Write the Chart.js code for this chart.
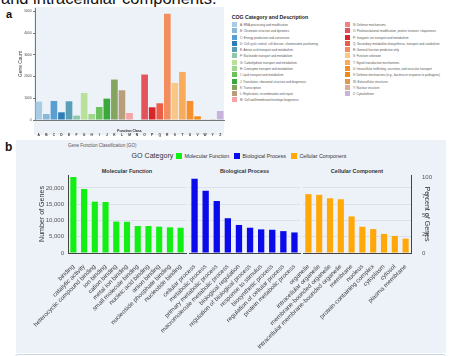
<!DOCTYPE html>
<html><head><meta charset="utf-8">
<script src="https://cdn.jsdelivr.net/npm/chart.js@4.4.0/dist/chart.umd.min.js"></script>
<style>
html,body{margin:0;padding:0;background:#fff;width:456px;height:356px;overflow:hidden;position:relative;font-family:"Liberation Sans",Arial,sans-serif;}
.abs{position:absolute;white-space:nowrap;}
canvas{position:absolute;}
.lg{position:absolute;white-space:nowrap;font-size:3px;color:#555;line-height:4px;}
.lg i{position:absolute;left:0;top:-1px;width:4.5px;height:5px;}
.lg span{position:absolute;left:8px;top:0;}
</style></head><body>
<div class="abs" style="left:1px;top:-9.5px;font-size:16.5px;line-height:15px;color:#111;">and intracellular components.</div>
<div class="abs" style="left:6px;top:8px;font-size:11px;font-weight:bold;color:#111;">a</div>
<canvas id="ca" width="228" height="137" style="left:0;top:0;"></canvas>
<div class="abs" style="left:231.7px;top:13.5px;font-size:5.2px;font-weight:bold;color:#222;line-height:6px;">COG Category and Description</div>
<div id="cogLegend"></div>

<div class="abs" style="left:16px;top:140px;width:430px;height:213px;background:#edf1f8;"></div>
<div class="abs" style="left:5px;top:140px;font-size:12px;font-weight:bold;color:#111;">b</div>
<div class="abs" style="left:68px;top:143px;font-size:4.5px;color:#555;line-height:6px;">Gene Function Classification (GO)</div>
<div class="abs" style="left:131.5px;top:151.5px;font-size:7.1px;color:#333;line-height:9px;">GO Category</div>
<div id="goLegend"></div>
<div id="goTitles"></div>
<canvas id="c1" width="172" height="193" style="left:16px;top:160px;"></canvas>
<canvas id="c2" width="286" height="193" style="left:16px;top:160px;"></canvas>
<canvas id="c3" width="430" height="193" style="left:16px;top:160px;"></canvas>
<div class="abs" style="left:15px;top:353.5px;width:429px;height:10px;background:#fff;border:1px solid #c9d6e6;border-radius:3px;"></div>

<script>
const FONT = '"Liberation Sans", Arial, sans-serif';

// ---- Panel a data ----
const cogClasses = ['A','B','C','D','E','F','G','H','I','J','K','L','M','N','O','P','Q','R','S','T','U','V','W','Y','Z'];
const cogCounts  = [845,276,876,353,860,200,1244,276,599,983,1859,1367,323,0,2089,584,768,4885,1705,2212,876,169,30,40,415];
const cogCountTicks = [0,1000,2000,3000,4000,5000];
const cogDescriptions = [
  'RNA processing and modification',
  'Chromatin structure and dynamics',
  'Energy production and conversion',
  'Cell cycle control, cell division, chromosome partitioning',
  'Amino acid transport and metabolism',
  'Nucleotide transport and metabolism',
  'Carbohydrate transport and metabolism',
  'Coenzyme transport and metabolism',
  'Lipid transport and metabolism',
  'Translation, ribosomal structure and biogenesis',
  'Transcription',
  'Replication, recombination and repair',
  'Cell wall/membrane/envelope biogenesis',
  'Defense mechanisms',
  'Posttranslational modification, protein turnover, chaperones',
  'Inorganic ion transport and metabolism',
  'Secondary metabolites biosynthesis, transport and catabolism',
  'General function prediction only',
  'Function unknown',
  'Signal transduction mechanisms',
  'Intracellular trafficking, secretion, and vesicular transport',
  'Defense mechanisms (e.g., bacteria in response to pathogens)',
  'Extracellular structures',
  'Nuclear structure',
  'Cytoskeleton'
];
const cogColors = ['#a8cce4','#8ab8dc','#5b9fd0','#2f7db8','#5a9fb5','#8fc9a9','#b8e29a','#9fd88a','#6cc15e','#3ba83b','#84a55f','#b89e7d','#f5a3a4',
                   '#f47f80','#e4525a','#d8272b','#ec5e48','#f38d5c','#fbc784','#f9ab5c','#f88f2c','#f38a13','#e39650','#dbab9a','#c8b4da'];

// ---- Panel b data ----
const mfTerms = ['binding','catalytic activity','heterocyclic compound binding','ion binding','cation binding','metal ion binding','small molecule binding','nucleic acid binding','anion binding','nucleoside phosphate binding','nucleotide binding'];
const mfCounts = [23380,19690,15800,15700,9670,9600,8310,8300,8100,7900,7780];
const bpTerms = ['cellular process','metabolic process','primary metabolic process','macromolecule metabolic process','biological regulation','regulation of biological process','response to stimulus','biosynthetic process','regulation of cellular process','protein metabolic process'];
const bpCounts = [22850,19150,16000,10700,8630,7780,7270,7150,6730,6320];
const ccTerms = ['organelle','intracellular organelle','membrane-bounded organelle','intracellular membrane-bounded organelle','membrane','nucleus','protein-containing complex','cytoplasm','cytosol','plasma membrane'];
const ccCounts = [18110,17890,16840,16530,11250,8090,7360,5880,5250,4420];
const goCategories = ['Molecular Function','Biological Process','Cellular Component'];
const goColors = ['#12ef12','#0a0aea','#ffa808'];
const goCountTicks = [0,5000,10000,15000,20000];
const goPercentTicks = [0,25,50,75,100];
const countMax = 24000;
const percentMax = 102.6;

const setTicks = arr => s => { s.ticks = arr.map(v => ({value:v})); };

// ---- legends (HTML) ----
(function(){
  const box = document.getElementById('cogLegend');
  cogClasses.forEach((c,i)=>{
    const col = i < 13 ? 0 : 1, row = i < 13 ? i : i - 13;
    const d = document.createElement('div');
    d.className = 'lg';
    d.style.left = (col ? 345 : 232) + 'px';
    d.style.top = (23 + row*6.28) + 'px';
    d.innerHTML = '<i style="background:'+cogColors[i]+'"></i><span>'+c+': '+cogDescriptions[i]+'</span>';
    box.appendChild(d);
  });
  const gl = document.getElementById('goLegend');
  const lx = [176, 234, 291];
  goCategories.forEach((g,i)=>{
    const sq = document.createElement('div');
    sq.className='abs';
    sq.style.cssText += 'left:'+lx[i]+'px;top:153px;width:6.3px;height:6.3px;background:'+goColors[i]+';';
    gl.appendChild(sq);
    const t = document.createElement('div');
    t.className='abs';
    t.style.cssText += 'left:'+(lx[i]+8.5)+'px;top:153px;font-size:5.3px;line-height:6.5px;color:#333;';
    t.textContent = g;
    gl.appendChild(t);
  });
  const gt = document.getElementById('goTitles');
  const cx = [127, 244.5, 357];
  goCategories.forEach((g,i)=>{
    const t = document.createElement('div');
    t.className='abs';
    t.style.cssText += 'left:'+(cx[i]-40)+'px;width:80px;text-align:center;top:167.5px;font-size:5.5px;line-height:6.5px;font-weight:bold;color:#333;';
    t.textContent = g;
    gt.appendChild(t);
  });
})();

// background of panel a plot (covers plot and the class letters below it)
const bgPlugin = color => ({id:'bg', beforeDraw(c){const a=c.chartArea, ctx=c.ctx; ctx.save(); ctx.fillStyle=color; ctx.fillRect(a.left-1, a.top-1, a.right-a.left+1, c.height-a.top-1); ctx.restore();}});

// ---- Panel a chart ----
new Chart(document.getElementById('ca'), {
  type:'bar',
  data:{labels:cogClasses, datasets:[{data:cogCounts, backgroundColor:cogColors, barPercentage:0.88, categoryPercentage:1}]},
  options:{
    responsive:false, animation:false, devicePixelRatio:1,
    layout:{padding:{top:8,right:4,left:0,bottom:0}},
    plugins:{legend:{display:false}, tooltip:{enabled:false}},
    scales:{
      x:{grid:{display:false}, border:{color:'#777'},
         ticks:{font:{size:3.3,weight:'bold',family:FONT}, color:'#333', padding:5.5, autoSkip:false, maxRotation:0},
         title:{display:true, text:'Function Class', font:{size:3.4,weight:'bold',family:FONT}, color:'#222', padding:{top:0,bottom:4.3}},
         afterFit:s=>{s.height=17; s.paddingLeft=0; s.paddingRight=0;}},
      y:{min:0, max:5150, afterBuildTicks:setTicks(cogCountTicks),
         ticks:{callback:v=>String(v), font:{size:3.3,family:FONT}, color:'#444', padding:1.5},
         grid:{drawOnChartArea:false, tickLength:2, color:'#777'}, border:{color:'#777'},
         title:{display:true, text:'Gene Count', font:{size:4.8,family:FONT}, color:'#333', padding:{top:18,bottom:0}},
         afterFit:s=>{s.width=35;}}
    }
  },
  plugins:[bgPlugin('#edf2f9')]
});

// ---- Panel b charts ----
function goChart(id, labels, counts, color, cfg){
  const scales = {
    x:{grid:{display:false}, border:{color:'#444'},
       ticks:{autoSkip:false, minRotation:45, maxRotation:45, font:{size:6.2,family:FONT}, color:'#444', padding:2},
       afterFit:s=>{s.height=100; s.paddingLeft=0; s.paddingRight=0;}},
    y:{min:0, max:countMax, afterBuildTicks:setTicks(goCountTicks),
       ticks:{display:cfg.left, callback:v=>v.toLocaleString('en-US'), font:{size:6,family:FONT}, color:'#555', padding:4},
       grid:{color:'#dbe1ea', drawTicks:false}, border:{display:cfg.left, color:'#444'},
       title:{display:cfg.left, text:'Number of Genes', font:{size:7.1,family:FONT}, color:'#333', padding:{top:21.5,bottom:0}},
       afterFit:s=>{s.width = cfg.left ? 52 : 0;}}
  };
  if (cfg.right) {
    scales.y1 = {position:'right', min:0, max:percentMax, afterBuildTicks:setTicks(goPercentTicks),
       ticks:{font:{size:6,family:FONT}, color:'#555', padding:3},
       grid:{display:false}, border:{color:'#444'},
       title:{display:true, text:'Percent of Genes', font:{size:7.1,family:FONT}, color:'#333', padding:{top:14.5,bottom:0}},
       afterFit:s=>{s.width=35;}};
  }
  return new Chart(document.getElementById(id), {
    type:'bar',
    data:{labels, datasets:[{data:counts, backgroundColor:color, barPercentage:0.57, categoryPercentage:1, yAxisID:'y'}]},
    options:{
      responsive:false, animation:false, devicePixelRatio:1,
      layout:{padding:{top:15, left:cfg.padLeft, right:cfg.padRight, bottom:0}},
      plugins:{legend:{display:false}, tooltip:{enabled:false}},
      scales
    }
  });
}
goChart('c1', mfTerms, mfCounts, goColors[0], {left:true, right:false, padLeft:0, padRight:2});
goChart('c2', bpTerms, bpCounts, goColors[1], {left:false, right:false, padLeft:173, padRight:2});
goChart('c3', ccTerms, ccCounts, goColors[2], {left:false, right:true, padLeft:287, padRight:0});
</script>
</body></html>
